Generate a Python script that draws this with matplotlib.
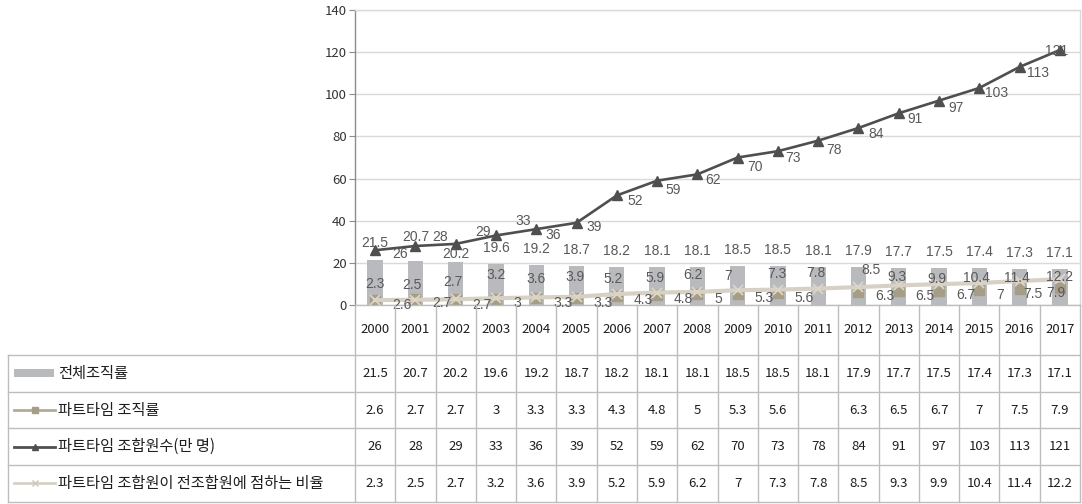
import numpy as np
import matplotlib
matplotlib.use("Agg")
import matplotlib.pyplot as plt
from matplotlib.transforms import blended_transform_factory
from matplotlib.lines import Line2D
from matplotlib.patches import Rectangle

# ---- data -------------------------------------------------------------
years = ["2000", "2001", "2002", "2003", "2004", "2005", "2006", "2007", "2008",
         "2009", "2010", "2011", "2012", "2013", "2014", "2015", "2016", "2017"]
total_rate = [21.5, 20.7, 20.2, 19.6, 19.2, 18.7, 18.2, 18.1, 18.1,
              18.5, 18.5, 18.1, 17.9, 17.7, 17.5, 17.4, 17.3, 17.1]
part_rate = [2.6, 2.7, 2.7, 3, 3.3, 3.3, 4.3, 4.8, 5,
             5.3, 5.6, None, 6.3, 6.5, 6.7, 7, 7.5, 7.9]
part_members = [26, 28, 29, 33, 36, 39, 52, 59, 62,
                70, 73, 78, 84, 91, 97, 103, 113, 121]
part_share = [2.3, 2.5, 2.7, 3.2, 3.6, 3.9, 5.2, 5.9, 6.2,
              7, 7.3, 7.8, 8.5, 9.3, 9.9, 10.4, 11.4, 12.2]
series_names = ["전체조직률", "파트타임 조직률", "파트타임 조합원수(만 명)",
                "파트타임 조합원이 전조합원에 점하는 비율"]
y_ticks = [0, 20, 40, 60, 80, 100, 120, 140]

# ---- label nudges (pixels; dx right, dy down) --------------------------
bar_lab_up = [18, 25, 9] + [17] * 15
share_lab_dx = [0, -3, -3, 0, 0, -2, -4, -2, -4, -10, -1, -2, 13, -2, -2, -3, -3, 0]
share_lab_up = [17, 16, 18, 24, 19, 21, 16, 16, 18, 15, 17, 17, 18, 9, 6, 6, 4, 3]
memb_lab_dx = [17, 17, 20, 19, 9, 10, 11, 8.5, 8, 9.5, 7, 8, 9.5, 9, 9, 6, 7, -15]
memb_lab_dn = [3, -10, -13, -15, 5, 3, 5, 8, 5, 8.5, 6, 8, 5, 5, 6, 4, 5, 0]
rate_lab_dx = [17] * 16 + [3.5, -13.5]
rate_lab_dn = [4.5, 2.7, 4.7] + [3.5] * 15

# ---- styling -----------------------------------------------------------
W, H = 1082, 504
BAR_C = "#b9babe"
MEMB_C = "#4f4f4f"
SHARE_C = "#d7d1c5"
RATE_C = "#a59d86"
GRID_C = "#d9d9d9"
TABLE_C = "#bdbdbd"
LABEL_C = "#595959"
TEXT_C = "#1e1e1e"
KR = ["Noto Sans CJK KR", "DejaVu Sans"]
NUM = ["Noto Sans CJK KR", "DejaVu Sans"]
LAB = ["Liberation Sans", "DejaVu Sans"]
LAB_SIZE = 10
NUM_SIZE = 9.5


def fx(px):
    return px / W


def fy(py):
    return 1 - py / H


fig = plt.figure(figsize=(W / 100, H / 100), dpi=100)
fig.patch.set_facecolor("white")

plot_left, plot_right, plot_top, plot_bottom = 355, 1080, 10, 305
ax = fig.add_axes([fx(plot_left), fy(plot_bottom),
                   (plot_right - plot_left) / W, (plot_bottom - plot_top) / H])

x = np.arange(len(years))
rate_arr = np.array(part_rate, dtype=float)

ax.set_xlim(-0.5, len(years) - 0.5)
ax.set_ylim(0, 140)
ax.set_yticks(y_ticks)
ax.yaxis.grid(True, color=GRID_C, linewidth=1.0, zorder=0)
ax.set_axisbelow(True)

for side in ("top", "right"):
    ax.spines[side].set_color(GRID_C)
    ax.spines[side].set_linewidth(1.0)
ax.spines["left"].set_color("#8c8c8c")
ax.spines["left"].set_linewidth(1.0)
ax.spines["bottom"].set_color(TABLE_C)
ax.spines["bottom"].set_linewidth(1.0)

ax.tick_params(axis="y", length=4, width=0.8, color="#8c8c8c", pad=2,
               labelsize=NUM_SIZE, labelcolor="#333333")
for t in ax.get_yticklabels():
    t.set_family(NUM)

ax.set_xticks(x)
ax.set_xticklabels(years, fontsize=NUM_SIZE, color=TEXT_C, family=NUM)
ax.tick_params(axis="x", length=0, pad=13)

# ---- series -------------------------------------------------------------
ax.bar(x, total_rate, width=0.38, color=BAR_C, zorder=1)
ax.plot(x, rate_arr, linestyle="none", marker="s", markersize=6.5,
        color=RATE_C, zorder=2)
ax.plot(x, part_share, color=SHARE_C, linewidth=3.0, marker="x",
        markersize=7, markeredgewidth=1.3, markeredgecolor="#ddd5c6", zorder=3)
ax.plot(x, part_members, color=MEMB_C, linewidth=1.9, marker="^",
        markersize=7.5, zorder=4)

# ---- data labels --------------------------------------------------------
cap_px = 0.716 * LAB_SIZE * 100 / 72


def put_label(xi, val, dx, dy_down, ha):
    ax.annotate(f"{val:g}", (xi, val), xytext=(dx, -dy_down - cap_px / 2),
                textcoords="offset pixels", ha=ha, va="baseline",
                fontsize=LAB_SIZE, family=LAB, color=LABEL_C, zorder=6,
                annotation_clip=False)


for i, v in enumerate(total_rate):
    put_label(i, v, 0, -bar_lab_up[i], "center")
for i, v in enumerate(part_share):
    put_label(i, v, share_lab_dx[i], -share_lab_up[i], "center")
for i, v in enumerate(part_members):
    put_label(i, v, memb_lab_dx[i], memb_lab_dn[i], "left")
for i, v in enumerate(part_rate):
    if v is not None:
        put_label(i, v, rate_lab_dx[i], rate_lab_dn[i], "left")

# ---- data table -----------------------------------------------------------
blend = blended_transform_factory(ax.transData, fig.transFigure)
row_lines = [355, 391.7, 428.3, 465, 501.7]
row_centers = [(a + b) / 2 for a, b in zip(row_lines[:-1], row_lines[1:])]
table_left = 8

for b in np.arange(-0.5, len(years), 1.0):
    fig.add_artist(Line2D([b, b], [fy(plot_bottom), fy(row_lines[-1])],
                          transform=blend, color=TABLE_C, linewidth=1.0))
for ry in row_lines:
    fig.add_artist(Line2D([fx(table_left), fx(plot_right)], [fy(ry), fy(ry)],
                          transform=fig.transFigure, color=TABLE_C, linewidth=1.0))
fig.add_artist(Line2D([fx(table_left), fx(table_left)],
                      [fy(row_lines[0]), fy(row_lines[-1])],
                      transform=fig.transFigure, color=TABLE_C, linewidth=1.0))

rows = [total_rate, part_rate, part_members, part_share]
for r, values in enumerate(rows):
    for i, v in enumerate(values):
        if v is None:
            continue
        fig.text(i, fy(row_centers[r]), f"{v:g}", transform=blend,
                 ha="center", va="center", fontsize=NUM_SIZE, family=NUM, color=TEXT_C)

# legend keys inside the first column
key_l, key_r = 14, 55
key_mid = (key_l + key_r) / 2
rc = row_centers
fig.add_artist(Rectangle((fx(key_l), fy(rc[0] + 4)), fx(key_r - 1) - fx(key_l), 8 / H,
                         transform=fig.transFigure, color=BAR_C, linewidth=0))
fig.add_artist(Line2D([fx(key_l), fx(key_r)], [fy(rc[1])] * 2, transform=fig.transFigure,
                      color="#b3ab95", linewidth=2.0))
fig.add_artist(Line2D([fx(key_mid)], [fy(rc[1])], transform=fig.transFigure,
                      marker="s", markersize=5, color=RATE_C, linestyle="none"))
fig.add_artist(Line2D([fx(key_l), fx(key_r)], [fy(rc[2])] * 2, transform=fig.transFigure,
                      color=MEMB_C, linewidth=2.0))
fig.add_artist(Line2D([fx(key_mid)], [fy(rc[2])], transform=fig.transFigure,
                      marker="^", markersize=5, color=MEMB_C, linestyle="none"))
fig.add_artist(Line2D([fx(key_l), fx(key_r)], [fy(rc[3])] * 2, transform=fig.transFigure,
                      color=SHARE_C, linewidth=2.0))
fig.add_artist(Line2D([fx(key_mid)], [fy(rc[3])], transform=fig.transFigure,
                      marker="x", markersize=5, markeredgewidth=1.0, color="#cfc7b7",
                      linestyle="none"))

for r, name in enumerate(series_names):
    fig.text(fx(58), fy(rc[r]), name, ha="left", va="center", fontsize=11,
             family=KR, color=TEXT_C)

fig.savefig("out.png", dpi=100, facecolor="white")
